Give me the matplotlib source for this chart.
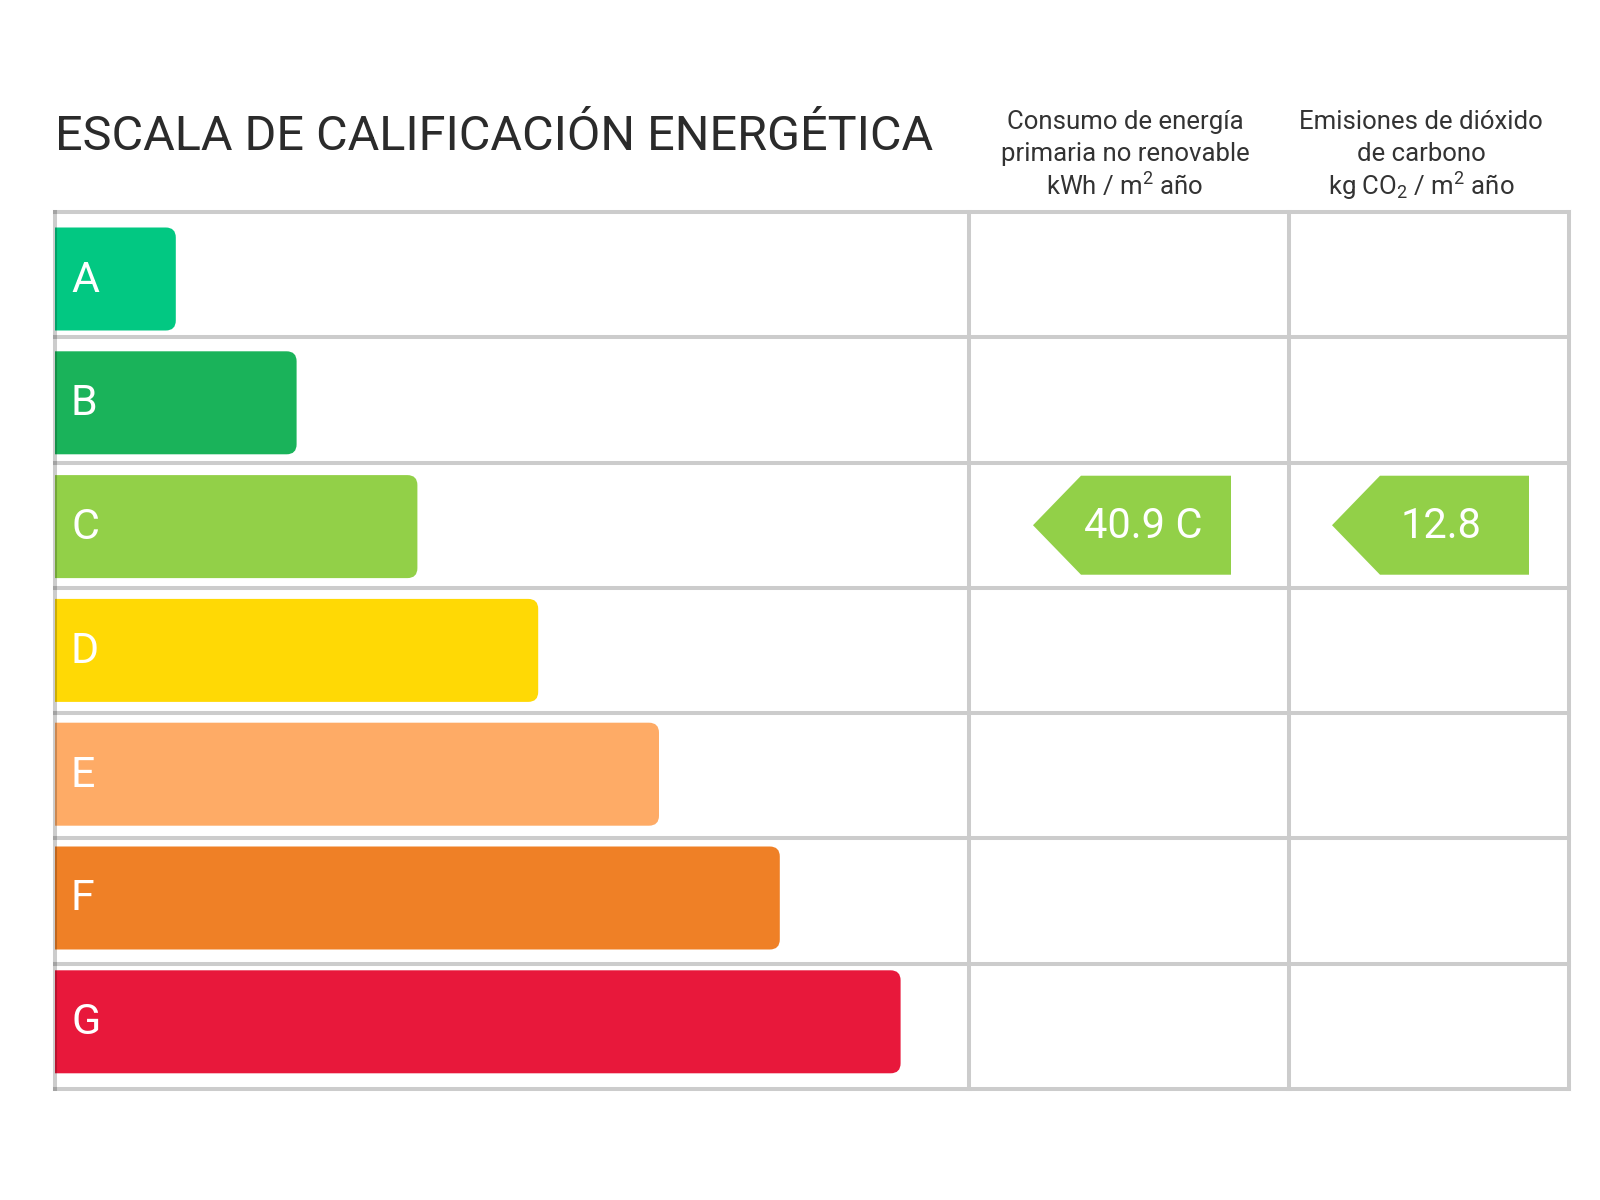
import matplotlib
matplotlib.use("Agg")
import matplotlib.pyplot as plt
from matplotlib.patches import FancyBboxPatch, Rectangle, Polygon

# ---- data ----
categories = ["A", "B", "C", "D", "E", "F", "G"]
bar_steps = [1, 2, 3, 4, 5, 6, 7]
bar_colors = ["#02c882", "#1ab35a", "#92d048", "#ffd905", "#feab66", "#ef8026", "#e8183b"]
title = "ESCALA DE CALIFICACIÓN ENERGÉTICA"
col1_header = ["Consumo de energía", "primaria no renovable", "kWh / m$^2$ año"]
col2_header = ["Emisiones de dióxido", "de carbono", "kg CO$_2$ / m$^2$ año"]
rating = "C"
consumption_value = 40.9
emission_value = 12.8

plt.rcParams['font.family'] = ['Roboto', 'DejaVu Sans']
plt.rcParams['mathtext.fontset'] = 'custom'
plt.rcParams['mathtext.rm'] = 'Roboto'
plt.rcParams['mathtext.it'] = 'Roboto'

fig = plt.figure(figsize=(16, 12), dpi=100)
ax = fig.add_axes([0, 0, 1, 1])
ax.set_xlim(0, 1600)
ax.set_ylim(1200, 0)
ax.axis('off')

# layout
left, right = 55, 1569
top, bottom = 212, 1089
col1, col2 = 969, 1289
row_h = (bottom - top) / len(categories)
bar_unit = 120.8
bar_pitch = 123.8
bar_h = 103
grid_c = "#cccccc"
lw = 2.9

# bars
for i, (cat, st, c) in enumerate(zip(categories, bar_steps, bar_colors)):
    y0 = 227.5 + i * bar_pitch
    w = st * bar_unit
    p = FancyBboxPatch((left - 20, y0), w + 20, bar_h,
                       boxstyle="round,pad=0,rounding_size=10",
                       fc=c, ec='none', zorder=2)
    clip = Rectangle((left, 0), 2000, 2000, transform=ax.transData)
    ax.add_patch(p)
    p.set_clip_path(clip)
    ax.text(left + 16, y0 + bar_h / 2 + 1, cat, color='white', fontsize=31,
            va='center', ha='left', zorder=4)

# grid
for i in range(len(categories) + 1):
    y = top + i * row_h
    ax.plot([left, right], [y, y], color=grid_c, lw=lw, zorder=3, solid_capstyle='projecting')
for x in [col1, col2, right]:
    ax.plot([x, x], [top, bottom], color=grid_c, lw=lw, zorder=3, solid_capstyle='projecting')
ax.plot([left, left], [top, bottom], color='black', alpha=0.2, lw=lw, zorder=3.5,
        solid_capstyle='projecting')

# title and headers
ax.text(left, 137, title, fontsize=35, color='#2b2b2b', va='center', ha='left')
for cx, lines in [(1125, col1_header), (1421, col2_header)]:
    for j, line in enumerate(lines):
        ax.text(cx, 122 + j * 32, line, fontsize=18.5, color='#333333',
                va='center', ha='center')

# rating arrows
ri = categories.index(rating)
rc = bar_colors[ri]
yc = top + (ri + 0.5) * row_h
ah = 99
for tip, bl, br, txt, tx in [(1033, 1081, 1231, f"{consumption_value} {rating}", 1143),
                             (1332, 1380, 1529, f"{emission_value}", 1441)]:
    poly = Polygon([(tip, yc), (bl, yc - ah / 2), (br, yc - ah / 2),
                    (br, yc + ah / 2), (bl, yc + ah / 2)], closed=True,
                   fc=rc, ec='none', zorder=4)
    ax.add_patch(poly)
    ax.text(tx, yc + 1, txt, color='white', fontsize=30,
            va='center', ha='center', zorder=5)

fig.savefig("out.png", dpi=100, facecolor='white')
